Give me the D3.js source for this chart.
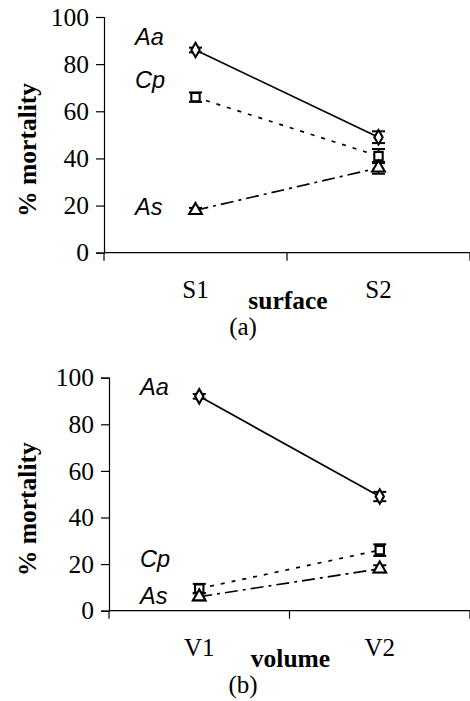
<!DOCTYPE html>
<html>
<head>
<meta charset="utf-8">
<script src="https://cdn.jsdelivr.net/npm/d3@7"></script>
<style>
  body { margin: 0; background: #fff; }
  svg { display: block; }
  text { fill: #000; }
</style>
</head>
<body>
<svg width="470" height="701"></svg>
<script>
// series names and data
const seriesNames = ["Aa", "Cp", "As"];

const surfaceCats = ["S1", "S2"];
const surfaceAa = [86, 49];
const surfaceCp = [66, 41];
const surfaceAs = [18, 36];
const surfaceErrAa = [1, 2.5];
const surfaceErrCp = [2, 3];
const surfaceErrAs = [1, 2.5];
const surfaceLabelAt = [91.5, 73.5, 19.5];

const volumeCats = ["V1", "V2"];
const volumeAa = [92, 49];
const volumeCp = [9.5, 26];
const volumeAs = [6, 18];
const volumeErrAa = [1, 2];
const volumeErrCp = [2, 2.5];
const volumeErrAs = [1.5, 1.5];
const volumeLabelAt = [96, 22.5, 6.5];

const yTicks = [0, 20, 40, 60, 80, 100];

const panels = [
  { cats: surfaceCats, vals: [surfaceAa, surfaceCp, surfaceAs], errs: [surfaceErrAa, surfaceErrCp, surfaceErrAs],
    labelAt: surfaceLabelAt, xTitle: "surface", tag: "(a)",
    left: 104, right: 470, top: 17, bottom: 252.7 },
  { cats: volumeCats, vals: [volumeAa, volumeCp, volumeAs], errs: [volumeErrAa, volumeErrCp, volumeErrAs],
    labelAt: volumeLabelAt, xTitle: "volume", tag: "(b)",
    left: 109, right: 470, top: 377.7, bottom: 610.7 }
];

const dashes = ["none", "4,7", "13,5,3,5"];
const serif = "'Liberation Serif', 'Times New Roman', serif";
const sans = "'Liberation Sans', Arial, sans-serif";

const svg = d3.select("svg");

function drawPanel(p) {
  const g = svg.append("g");

  const scX = d3.scaleBand().domain(p.cats).range([p.left, p.right]);
  const scY = d3.scaleLinear().domain([0, 100]).range([p.bottom, p.top]);
  const cx = c => scX(c) + scX.bandwidth() / 2;

  // y axis
  const ay = g.append("g")
    .attr("transform", `translate(${p.left},0)`)
    .call(d3.axisLeft(scY).tickValues(yTicks).tickSize(8).tickPadding(7));
  ay.select(".domain").attr("stroke", "#000").attr("stroke-width", 1.2);
  ay.selectAll(".tick line").attr("stroke", "#000").attr("stroke-width", 1.2);
  ay.selectAll("text").attr("font-family", serif).attr("font-size", 25.5).attr("fill", "#000");

  // x axis: ticks sit on the band edges
  const ax = g.append("g").attr("transform", `translate(0,${p.bottom})`);
  ax.append("line").attr("x1", p.left).attr("x2", p.right)
    .attr("stroke", "#000").attr("stroke-width", 1.2);
  ax.selectAll(".xt").data(p.cats.map(c => scX(c)).concat([p.right]))
    .enter().append("line")
    .attr("x1", d => d).attr("x2", d => d).attr("y1", 0).attr("y2", 8)
    .attr("stroke", "#000").attr("stroke-width", 1.2);
  ax.selectAll(".xl").data(p.cats).enter().append("text")
    .attr("x", d => cx(d)).attr("y", 45)
    .attr("text-anchor", "middle")
    .attr("font-family", serif).attr("font-size", 25)
    .text(d => d);

  // axis titles
  g.append("text")
    .attr("x", (p.left + p.right) / 2 + 1).attr("y", p.bottom + 56)
    .attr("text-anchor", "middle")
    .attr("font-family", serif).attr("font-size", 25.5).attr("font-weight", "bold")
    .text(p.xTitle);
  g.append("text")
    .attr("x", 243).attr("y", p.bottom + 82)
    .attr("text-anchor", "middle")
    .attr("font-family", serif).attr("font-size", 25)
    .text(p.tag);
  g.append("text")
    .attr("transform", `translate(36,${(p.top + p.bottom) / 2 + 15}) rotate(-90)`)
    .attr("text-anchor", "middle")
    .attr("font-family", serif).attr("font-size", 25.5).attr("font-weight", "bold")
    .text("% mortality");

  // lines
  const line = d3.line().x((d, i) => cx(p.cats[i])).y(d => scY(d));
  p.vals.forEach((vals, k) => {
    g.append("path")
      .datum(vals)
      .attr("d", line)
      .attr("fill", "none")
      .attr("stroke", "#000")
      .attr("stroke-width", 1.7)
      .attr("stroke-dasharray", dashes[k]);
  });

  // error bars and markers
  const symbols = [d3.symbolDiamond, d3.symbolSquare, d3.symbolTriangle];
  p.vals.forEach((vals, k) => {
    vals.forEach((v, i) => {
      const x = cx(p.cats[i]);
      const e = p.errs[k][i];
      const y1 = scY(v - e), y2 = scY(v + e);
      g.append("line").attr("x1", x).attr("x2", x).attr("y1", y1).attr("y2", y2)
        .attr("stroke", "#000").attr("stroke-width", 1.8);
      [y1, y2].forEach(yy => {
        g.append("line").attr("x1", x - 6.5).attr("x2", x + 6.5).attr("y1", yy).attr("y2", yy)
          .attr("stroke", "#000").attr("stroke-width", 2);
      });
      g.append("path")
        .attr("d", d3.symbol().type(symbols[k]).size(k === 0 ? 60 : 70)())
        .attr("transform", `translate(${x},${scY(v)})`)
        .attr("fill", "#fff")
        .attr("stroke", "#000")
        .attr("stroke-width", 2.1);
    });
  });

  // series labels
  seriesNames.forEach((name, k) => {
    g.append("text")
      .attr("x", p.left + 31)
      .attr("y", scY(p.labelAt[k]))
      .attr("dy", "0.35em")
      .attr("font-family", sans).attr("font-size", 23.5).attr("font-style", "italic")
      .text(name);
  });
}

panels.forEach(drawPanel);
</script>
</body>
</html>
